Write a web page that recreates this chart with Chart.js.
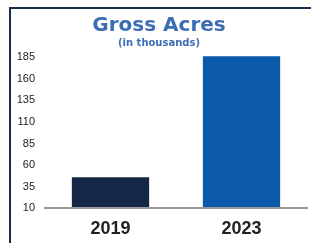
<!DOCTYPE html>
<html>
<head>
<meta charset="utf-8">
<script src="https://cdn.jsdelivr.net/npm/chart.js@4"></script>
<style>
  html, body { margin: 0; padding: 0; background: #fff; }
  #wrap {
    position: absolute; left: 9px; top: 7px;
    width: 302px; height: 236px;
    border-top: 2px solid #1b2d4f; border-left: 2px solid #1b2d4f;
  }
</style>
</head>
<body>
<div id="wrap"><canvas id="myChart" width="300" height="234"></canvas></div>
<script>
const YEARS = ['2019', '2023'];
const GROSS_ACRES = [46, 186];
const BAR_COLORS = ['#142747', '#0b5aa9'];
const Y_MIN = 10, Y_MAX = 185, Y_STEP = 25;

const ctx = document.getElementById('myChart').getContext('2d');
const myChart = new Chart(ctx, {
    type: 'bar',
    data: {
        labels: YEARS,
        datasets: [{
            label: 'Gross Acres',
            data: GROSS_ACRES,
            base: Y_MIN,
            backgroundColor: BAR_COLORS,
            barPercentage: 0.59,
            categoryPercentage: 1,
            clip: false
        }]
    },
    options: {
        responsive: false,
        maintainAspectRatio: false,
        animation: false,
        layout: { padding: { left: 0, right: 4, top: 2, bottom: 1 } },
        plugins: {
            legend: { display: false },
            tooltip: { enabled: false },
            title: {
                display: true,
                text: 'Gross Acres',
                color: '#3b6db6',
                font: { family: 'DejaVu Sans', size: 20, weight: 'bold', lineHeight: 1.2 },
                padding: { top: 3, bottom: 0 }
            },
            subtitle: {
                display: true,
                text: '(in thousands)',
                color: '#3b6db6',
                font: { family: 'DejaVu Sans', size: 10, weight: 'bold', lineHeight: 1 },
                padding: { top: 0, bottom: 9 }
            }
        },
        scales: {
            x: {
                grid: { display: false },
                border: { display: true, color: '#999999', width: 2, z: 1 },
                ticks: {
                    color: '#222222',
                    padding: 2,
                    font: { family: 'Liberation Sans', size: 18, weight: 'bold' }
                }
            },
            y: {
                min: Y_MIN,
                max: Y_MAX,
                grid: { display: false, drawTicks: false },
                border: { display: false },
                afterFit: scale => { scale.width = 34; },
                ticks: {
                    stepSize: Y_STEP,
                    color: '#222222',
                    padding: 10,
                    font: { family: 'Liberation Sans', size: 11 }
                }
            }
        }
    }
});
</script>
</body>
</html>
